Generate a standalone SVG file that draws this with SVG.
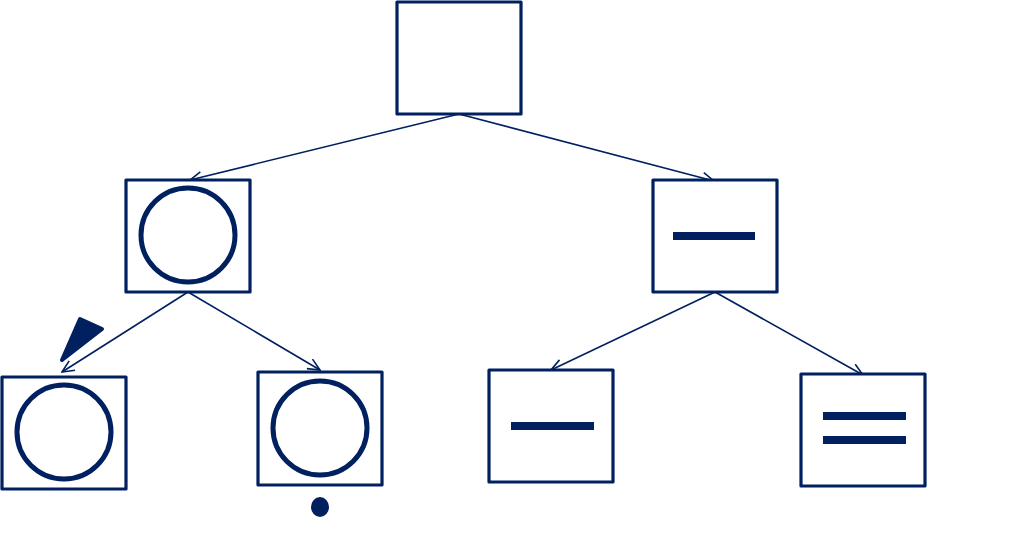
<svg xmlns="http://www.w3.org/2000/svg" width="1013" height="535" viewBox="0 0 1013 535">
<defs>
<style>
.box{fill:#fff;stroke:#002060;stroke-width:3.2;stroke-linejoin:round}
.ring{fill:none;stroke:#002060;stroke-width:5}
.bar{fill:#002060}
.edge{fill:none;stroke:#002060;stroke-width:1.6}
</style>
<marker id="arr" viewBox="0 0 14 14" refX="13" refY="7" markerWidth="14" markerHeight="14" markerUnits="userSpaceOnUse" orient="auto">
<path d="M1,1.5 L13,7 L1,12.5" fill="none" stroke="#002060" stroke-width="1.6"/>
</marker>
</defs>
<g id="connectors">
<line class="edge" x1="459" y1="114" x2="190" y2="180" marker-end="url(#arr)"/>
<line class="edge" x1="459" y1="114" x2="714" y2="181" marker-end="url(#arr)"/>
<line class="edge" x1="188" y1="292" x2="62" y2="372" marker-end="url(#arr)"/>
<line class="edge" x1="188" y1="292" x2="320" y2="370" marker-end="url(#arr)"/>
<line class="edge" x1="715" y1="292" x2="551" y2="370" marker-end="url(#arr)"/>
<line class="edge" x1="715" y1="292" x2="863" y2="375" marker-end="url(#arr)"/>
</g>
<g id="root"><rect class="box" x="397" y="2" width="124" height="112"/></g>
<g id="nodeL"><rect class="box" x="126" y="180" width="124" height="112"/><circle class="ring" cx="188" cy="235" r="47"/></g>
<g id="nodeR"><rect class="box" x="653" y="180" width="124" height="112"/><rect class="bar" x="673" y="232" width="82" height="8"/></g>
<g id="nodeLL"><rect class="box" x="2" y="377" width="124" height="112"/><circle class="ring" cx="64" cy="432" r="47"/></g>
<g id="nodeLR"><rect class="box" x="258" y="372" width="124" height="113"/><circle class="ring" cx="320" cy="428" r="47"/><ellipse class="bar" cx="320" cy="507" rx="9" ry="10"/></g>
<g id="nodeRL"><rect class="box" x="489" y="370" width="124" height="112"/><rect class="bar" x="511" y="422" width="83" height="8"/></g>
<g id="nodeRR"><rect class="box" x="801" y="374" width="124" height="112"/><rect class="bar" x="823" y="412" width="83" height="8"/><rect class="bar" x="823" y="436" width="83" height="8"/></g>
<g id="flag"><polygon points="62,360 80,319 102,329" fill="#002060" stroke="#002060" stroke-width="4" stroke-linejoin="round"/></g>
</svg>
